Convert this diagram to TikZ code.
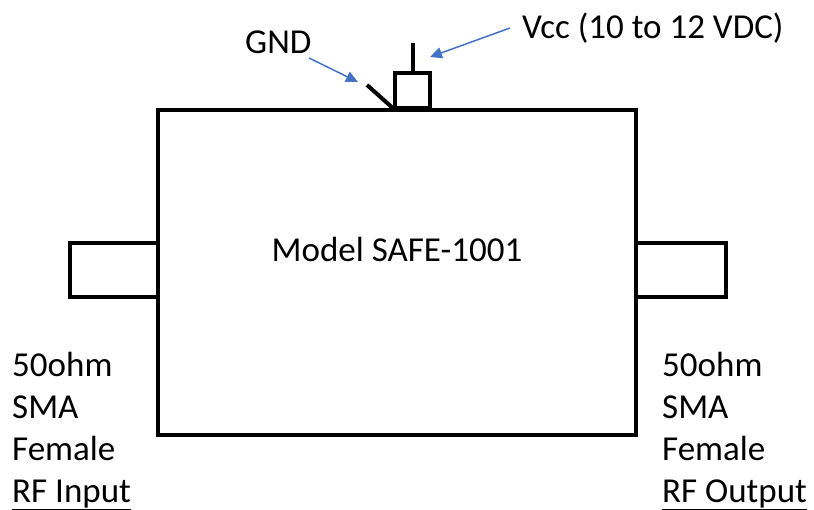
\documentclass[tikz,border=0pt]{standalone}
\usepackage{fontspec}
\setmainfont{Carlito}
\usetikzlibrary{positioning,arrows.meta}
\definecolor{ampBlue}{RGB}{68,114,196}
\tikzset{
    base/.style={font=\fontsize{35}{42}\selectfont, inner sep=0pt},
    part/.style={rectangle, draw=black, line width=4pt, inner sep=0pt, fill=white},
    lbl/.style={base, anchor=base west},
    pointer/.style={-{Triangle[length=12pt, width=11pt]}, line width=1.5pt, color=ampBlue}
}
\begin{document}
\begin{tikzpicture}[x=1pt, y=-1pt, line join=miter]
    \useasboundingbox (0,0) rectangle (814,510);

    % RF connectors behind the body
    \node[part, minimum width=88pt, minimum height=54pt] (rfin) at (114,270) {};
    \node[part, minimum width=90pt, minimum height=54pt] (rfout) at (681,270) {};

    % Amplifier body
    \node[part, minimum width=478pt, minimum height=325pt] (amp) at (397,272.5) {};
    \node[base, anchor=base] (model) at (397,262) {Model SAFE-1001};

    % Supply pins
    \node[part, minimum width=35pt, minimum height=35pt, anchor=south] (vccpin) at (412.5,110) {};
    \coordinate (vcctop) at (412.5,43);
    \draw[line width=4pt] (vccpin.north) -- (vcctop);
    \coordinate (gndfoot) at (395,110);
    \coordinate (gndend) at (367,85);
    \draw[line width=4pt] (gndfoot) -- (gndend);

    % Pin labels
    \node[lbl] (gnd) at (245,54) {GND};
    \node[lbl] (vcc) at (522,39) {Vcc (10 to 12 VDC)};
    \coordinate (gndtip) at (358,82);
    \coordinate (vcctip) at (430,57);
    \draw[pointer] (309,58) -- (gndtip);
    \draw[pointer] (510,28) -- (vcctip);

    % Port labels
    \foreach \txt [count=\i] in {50ohm, SMA, Female, \underline{RF Input}}
        \node[lbl] (inlbl\i) at (12,{377+41.7*(\i-1)}) {\txt};
    \foreach \txt [count=\i] in {50ohm, SMA, Female, \underline{RF Output}}
        \node[lbl] (outlbl\i) at (662,{377+41.7*(\i-1)}) {\txt};
\end{tikzpicture}
\end{document}
